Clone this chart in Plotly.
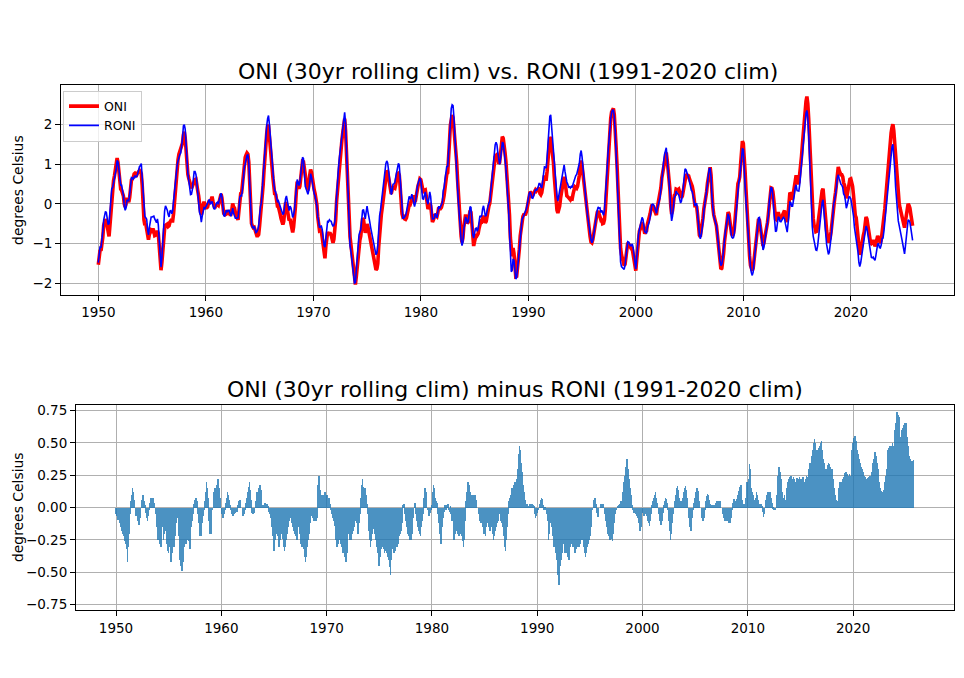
import plotly.graph_objects as go

# ---------------- data (monthly, starting Jan 1950) ----------------
start_year = 1950
x_ticks = [1950, 1960, 1970, 1980, 1990, 2000, 2010, 2020]
top_yticks = [-2, -1, 0, 1, 2]
bottom_yticks = [-0.75, -0.5, -0.25, 0.0, 0.25, 0.5, 0.75]

# ONI (30yr rolling climatology), one row per year
oni = [
    -1.53, -1.34, -1.16, -1.18, -1.07, -0.85, -0.54, -0.42, -0.39, -0.44, -0.60, -0.80,  # 1950
    -0.82, -0.54, -0.17, 0.18, 0.36, 0.58, 0.70, 0.89, 0.99, 1.15, 1.04, 0.81,  # 1951
    0.53, 0.37, 0.34, 0.29, 0.20, 0.00, -0.08, 0.00, 0.15, 0.10, 0.04, 0.16,  # 1952
    0.40, 0.60, 0.63, 0.66, 0.75, 0.77, 0.75, 0.73, 0.78, 0.84, 0.84, 0.81,  # 1953
    0.76, 0.47, -0.05, -0.41, -0.54, -0.50, -0.64, -0.84, -0.90, -0.77, -0.73, -0.66,  # 1954
    -0.68, -0.62, -0.69, -0.80, -0.79, -0.72, -0.68, -0.75, -1.09, -1.42, -1.67, -1.47,  # 1955
    -1.11, -0.76, -0.63, -0.54, -0.52, -0.51, -0.57, -0.55, -0.46, -0.42, -0.43, -0.43,  # 1956
    -0.25, 0.06, 0.41, 0.72, 0.92, 1.11, 1.25, 1.32, 1.33, 1.39, 1.53, 1.74,  # 1957
    1.81, 1.66, 1.27, 0.93, 0.74, 0.64, 0.57, 0.43, 0.39, 0.44, 0.50, 0.61,  # 1958
    0.61, 0.62, 0.52, 0.33, 0.20, -0.07, -0.18, -0.28, -0.09, -0.03, 0.05, -0.04,  # 1959
    -0.10, -0.10, -0.08, 0.02, 0.09, 0.03, 0.13, 0.18, 0.06, -0.06, -0.11, -0.05,  # 1960
    -0.03, -0.02, -0.04, 0.05, 0.13, 0.25, 0.15, -0.06, -0.24, -0.26, -0.16, -0.16,  # 1961
    -0.24, -0.22, -0.21, -0.27, -0.27, -0.16, 0.01, -0.08, -0.10, -0.22, -0.30, -0.40,  # 1962
    -0.40, -0.17, 0.16, 0.26, 0.28, 0.51, 0.85, 1.08, 1.17, 1.23, 1.28, 1.25,  # 1963
    1.05, 0.55, -0.08, -0.49, -0.56, -0.60, -0.59, -0.68, -0.80, -0.80, -0.80, -0.77,  # 1964
    -0.56, -0.32, -0.16, 0.16, 0.47, 0.84, 1.23, 1.53, 1.77, 1.96, 1.98, 1.70,  # 1965
    1.34, 1.17, 0.91, 0.64, 0.36, 0.23, 0.25, 0.08, -0.06, -0.07, -0.14, -0.26,  # 1966
    -0.37, -0.46, -0.52, -0.44, -0.18, 0.03, 0.00, -0.20, -0.34, -0.42, -0.38, -0.48,  # 1967
    -0.63, -0.72, -0.58, -0.40, -0.08, 0.29, 0.56, 0.49, 0.38, 0.44, 0.73, 0.93,  # 1968
    1.07, 1.06, 0.86, 0.69, 0.58, 0.42, 0.34, 0.44, 0.72, 0.86, 0.79, 0.61,  # 1969
    0.51, 0.35, 0.26, 0.15, -0.02, -0.33, -0.60, -0.68, -0.67, -0.70, -0.85, -1.11,  # 1970
    -1.35, -1.37, -1.07, -0.81, -0.71, -0.75, -0.75, -0.75, -0.79, -0.90, -0.98, -0.89,  # 1971
    -0.70, -0.39, 0.06, 0.36, 0.63, 0.93, 1.15, 1.42, 1.62, 1.81, 2.08, 2.14,  # 1972
    1.84, 1.24, 0.54, -0.07, -0.55, -0.83, -1.03, -1.23, -1.43, -1.73, -1.96, -2.03,  # 1973
    -1.83, -1.60, -1.23, -1.04, -0.91, -0.81, -0.56, -0.37, -0.39, -0.59, -0.73, -0.60,  # 1974
    -0.51, -0.58, -0.71, -0.75, -0.87, -1.05, -1.20, -1.27, -1.44, -1.52, -1.66, -1.63,  # 1975
    -1.50, -1.08, -0.70, -0.46, -0.26, -0.09, 0.14, 0.36, 0.58, 0.73, 0.83, 0.81,  # 1976
    0.65, 0.50, 0.28, 0.25, 0.35, 0.44, 0.40, 0.39, 0.49, 0.63, 0.76, 0.77,  # 1977
    0.72, 0.42, 0.04, -0.25, -0.33, -0.32, -0.38, -0.39, -0.35, -0.23, -0.10, -0.03,  # 1978
    -0.03, 0.05, 0.19, 0.21, 0.10, 0.05, 0.08, 0.24, 0.36, 0.46, 0.53, 0.63,  # 1979
    0.61, 0.46, 0.31, 0.27, 0.34, 0.35, 0.21, 0.02, -0.13, -0.07, 0.02, -0.04,  # 1980
    -0.26, -0.46, -0.41, -0.35, -0.26, -0.30, -0.32, -0.23, -0.09, -0.11, -0.12, -0.09,  # 1981
    -0.02, 0.08, 0.21, 0.46, 0.67, 0.75, 0.78, 1.06, 1.55, 1.98, 2.18, 2.23,  # 1982
    2.17, 1.92, 1.54, 1.28, 1.06, 0.62, 0.22, -0.16, -0.50, -0.81, -0.97, -0.86,  # 1983
    -0.58, -0.38, -0.27, -0.36, -0.49, -0.46, -0.32, -0.17, -0.21, -0.56, -0.92, -1.06,  # 1984
    -0.95, -0.84, -0.76, -0.79, -0.75, -0.62, -0.48, -0.44, -0.45, -0.33, -0.30, -0.39,  # 1985
    -0.48, -0.44, -0.26, -0.17, -0.06, 0.01, 0.23, 0.43, 0.67, 0.89, 1.08, 1.18,  # 1986
    1.22, 1.24, 1.14, 1.01, 1.04, 1.21, 1.50, 1.69, 1.65, 1.51, 1.29, 1.07,  # 1987
    0.75, 0.47, 0.14, -0.28, -0.86, -1.26, -1.32, -1.11, -1.24, -1.54, -1.83, -1.82,  # 1988
    -1.65, -1.37, -1.14, -0.80, -0.57, -0.37, -0.32, -0.27, -0.25, -0.26, -0.19, -0.06,  # 1989
    0.10, 0.24, 0.30, 0.28, 0.21, 0.22, 0.27, 0.33, 0.35, 0.32, 0.34, 0.37,  # 1990
    0.41, 0.26, 0.23, 0.28, 0.47, 0.64, 0.71, 0.62, 0.62, 0.82, 1.18, 1.50,  # 1991
    1.68, 1.64, 1.48, 1.29, 1.06, 0.69, 0.37, 0.06, -0.16, -0.23, -0.15, -0.06,  # 1992
    0.14, 0.30, 0.50, 0.66, 0.68, 0.56, 0.34, 0.20, 0.18, 0.14, 0.13, 0.10,  # 1993
    0.14, 0.13, 0.25, 0.35, 0.43, 0.41, 0.39, 0.44, 0.55, 0.72, 0.97, 1.09,  # 1994
    0.96, 0.74, 0.53, 0.30, 0.15, 0.00, -0.18, -0.41, -0.65, -0.83, -0.96, -0.98,  # 1995
    -0.90, -0.76, -0.58, -0.41, -0.28, -0.21, -0.18, -0.26, -0.30, -0.40, -0.38, -0.50,  # 1996
    -0.49, -0.40, -0.14, 0.27, 0.76, 1.24, 1.61, 1.93, 2.15, 2.31, 2.39, 2.40,  # 1997
    2.24, 1.93, 1.44, 0.99, 0.45, -0.13, -0.78, -1.12, -1.28, -1.38, -1.48, -1.55,  # 1998
    -1.52, -1.29, -1.05, -0.98, -1.01, -1.06, -1.09, -1.13, -1.13, -1.27, -1.42, -1.65,  # 1999
    -1.68, -1.41, -1.08, -0.81, -0.69, -0.63, -0.54, -0.46, -0.53, -0.64, -0.75, -0.70,  # 2000
    -0.68, -0.51, -0.44, -0.34, -0.25, -0.12, -0.02, -0.06, -0.13, -0.21, -0.26, -0.28,  # 2001
    -0.10, 0.04, 0.12, 0.22, 0.40, 0.65, 0.80, 0.87, 0.99, 1.15, 1.29, 1.11,  # 2002
    0.92, 0.61, 0.39, -0.04, -0.26, -0.17, 0.08, 0.21, 0.23, 0.37, 0.36, 0.35,  # 2003
    0.37, 0.29, 0.16, 0.15, 0.20, 0.34, 0.53, 0.70, 0.71, 0.73, 0.70, 0.70,  # 2004
    0.62, 0.57, 0.49, 0.44, 0.33, 0.13, -0.05, -0.05, -0.08, -0.28, -0.59, -0.79,  # 2005
    -0.83, -0.70, -0.56, -0.36, -0.12, 0.02, 0.09, 0.30, 0.52, 0.72, 0.91, 0.92,  # 2006
    0.72, 0.22, -0.08, -0.27, -0.34, -0.42, -0.55, -0.76, -1.05, -1.33, -1.55, -1.64,  # 2007
    -1.62, -1.48, -1.25, -0.95, -0.81, -0.64, -0.41, -0.21, -0.25, -0.43, -0.65, -0.76,  # 2008
    -0.80, -0.75, -0.62, -0.31, 0.04, 0.32, 0.51, 0.57, 0.68, 0.99, 1.38, 1.58,  # 2009
    1.52, 1.25, 0.81, 0.36, -0.17, -0.64, -1.02, -1.31, -1.55, -1.65, -1.68, -1.62,  # 2010
    -1.43, -1.18, -0.89, -0.72, -0.53, -0.38, -0.41, -0.58, -0.80, -1.00, -1.06, -0.98,  # 2011
    -0.86, -0.68, -0.57, -0.47, -0.26, 0.04, 0.24, 0.40, 0.39, 0.31, 0.11, -0.16,  # 2012
    -0.38, -0.40, -0.29, -0.21, -0.29, -0.36, -0.35, -0.33, -0.27, -0.19, -0.17, -0.28,  # 2013
    -0.43, -0.46, -0.27, 0.00, 0.28, 0.25, 0.12, 0.14, 0.28, 0.45, 0.62, 0.72,  # 2014
    0.55, 0.50, 0.54, 0.73, 0.95, 1.20, 1.50, 1.83, 2.12, 2.38, 2.58, 2.70,  # 2015
    2.52, 2.14, 1.58, 0.94, 0.39, -0.07, -0.36, -0.54, -0.59, -0.70, -0.69, -0.56,  # 2016
    -0.34, -0.15, 0.06, 0.22, 0.33, 0.38, 0.17, -0.14, -0.40, -0.68, -0.86, -0.97,  # 2017
    -0.92, -0.85, -0.70, -0.48, -0.13, 0.08, 0.13, 0.29, 0.56, 0.86, 0.93, 0.84,  # 2018
    0.75, 0.73, 0.73, 0.68, 0.53, 0.47, 0.32, 0.14, 0.23, 0.38, 0.53, 0.62,  # 2019
    0.63, 0.54, 0.44, 0.22, -0.08, -0.29, -0.35, -0.56, -0.86, -1.15, -1.28, -1.21,  # 2020
    -1.03, -0.91, -0.79, -0.70, -0.50, -0.33, -0.38, -0.52, -0.72, -0.87, -0.97, -1.00,  # 2021
    -0.98, -0.91, -0.99, -1.07, -1.00, -0.89, -0.81, -0.85, -0.97, -0.99, -0.91, -0.73,  # 2022
    -0.66, -0.43, -0.13, 0.16, 0.47, 0.81, 1.07, 1.30, 1.56, 1.78, 1.92, 2.00,  # 2023
    1.84, 1.54, 1.17, 0.76, 0.43, 0.17, 0.01, -0.11, -0.21, -0.27, -0.37, -0.51,  # 2024
    -0.60, -0.44, -0.23, -0.07, 0.00, -0.04, -0.11, -0.26, -0.42, -0.55,  # 2025
]

# ONI minus RONI, one row per year
oni_minus_roni = [
    -0.05, -0.06, -0.09, -0.07, -0.12, -0.15, -0.13, -0.18, -0.20, -0.22, -0.26, -0.28,  # 1950
    -0.32, -0.42, -0.30, -0.20, -0.05, 0.05, 0.10, 0.15, 0.12, 0.06, -0.02, -0.06,  # 1951
    -0.05, -0.10, -0.13, -0.08, -0.02, 0.06, 0.08, 0.10, 0.05, 0.02, -0.04, -0.08,  # 1952
    -0.10, -0.06, -0.02, 0.04, 0.08, 0.06, 0.08, 0.04, 0.02, -0.05, -0.10, -0.15,  # 1953
    -0.25, -0.20, -0.28, -0.30, -0.22, -0.15, -0.25, -0.20, -0.12, -0.18, -0.28, -0.33,  # 1954
    -0.35, -0.30, -0.38, -0.42, -0.35, -0.25, -0.30, -0.22, -0.18, -0.12, -0.08, -0.12,  # 1955
    -0.22, -0.40, -0.45, -0.49, -0.42, -0.35, -0.30, -0.22, -0.28, -0.25, -0.18, -0.26,  # 1956
    -0.32, -0.25, -0.15, -0.10, -0.05, 0.03, 0.06, 0.08, 0.05, -0.05, -0.12, -0.22,  # 1957
    -0.18, -0.22, -0.12, -0.06, -0.02, 0.05, 0.12, 0.20, 0.15, 0.08, -0.10, -0.20,  # 1958
    -0.20, -0.12, -0.02, 0.08, 0.12, 0.15, 0.10, 0.18, 0.22, 0.20, 0.15, 0.08,  # 1959
    -0.03, -0.05, -0.08, -0.05, -0.02, 0.04, 0.08, 0.12, 0.10, 0.06, 0.02, -0.02,  # 1960
    -0.05, -0.06, -0.03, -0.05, -0.04, -0.02, -0.03, 0.02, 0.05, 0.06, 0.03, 0.00,  # 1961
    -0.03, -0.06, -0.05, -0.02, 0.04, 0.08, 0.12, 0.16, 0.20, 0.14, 0.06, -0.04,  # 1962
    -0.05, -0.04, -0.02, 0.05, 0.08, 0.12, 0.10, 0.15, 0.18, 0.14, 0.06, 0.02,  # 1963
    0.02, 0.03, 0.04, 0.02, 0.03, 0.01, -0.03, -0.05, -0.08, -0.10, -0.15, -0.22,  # 1964
    -0.33, -0.25, -0.18, -0.20, -0.22, -0.26, -0.30, -0.25, -0.20, -0.18, -0.24, -0.30,  # 1965
    -0.33, -0.30, -0.25, -0.20, -0.15, -0.10, -0.05, -0.08, -0.12, -0.15, -0.14, -0.18,  # 1966
    -0.20, -0.22, -0.25, -0.20, -0.15, -0.10, -0.20, -0.28, -0.30, -0.25, -0.32, -0.38,  # 1967
    -0.42, -0.38, -0.30, -0.25, -0.20, -0.12, -0.05, -0.06, -0.08, -0.10, -0.06, -0.10,  # 1968
    -0.10, -0.08, 0.18, 0.25, 0.20, 0.14, 0.10, 0.10, 0.08, 0.10, 0.12, 0.10,  # 1969
    0.08, 0.10, 0.06, 0.08, 0.03, -0.02, -0.05, -0.08, -0.10, -0.14, -0.20, -0.25,  # 1970
    -0.30, -0.28, -0.22, -0.25, -0.28, -0.30, -0.35, -0.32, -0.35, -0.38, -0.42, -0.35,  # 1971
    -0.25, -0.20, -0.22, -0.25, -0.25, -0.20, -0.18, -0.15, -0.10, -0.08, -0.12, -0.16,  # 1972
    -0.20, -0.12, -0.05, 0.08, 0.18, 0.22, 0.16, 0.14, 0.15, 0.10, 0.03, -0.05,  # 1973
    -0.18, -0.25, -0.30, -0.26, -0.20, -0.16, -0.15, -0.20, -0.25, -0.30, -0.35, -0.40,  # 1974
    -0.45, -0.38, -0.32, -0.30, -0.28, -0.32, -0.35, -0.33, -0.30, -0.35, -0.38, -0.40,  # 1975
    -0.46, -0.52, -0.40, -0.30, -0.32, -0.35, -0.33, -0.30, -0.30, -0.28, -0.25, -0.22,  # 1976
    -0.20, -0.18, -0.12, 0.02, 0.03, -0.05, -0.10, -0.15, -0.18, -0.20, -0.22, -0.25,  # 1977
    -0.25, -0.20, -0.15, -0.08, 0.03, 0.04, -0.05, -0.10, -0.15, -0.18, -0.20, -0.22,  # 1978
    -0.15, -0.10, -0.05, 0.08, 0.15, 0.12, 0.05, -0.02, -0.05, -0.06, -0.04, -0.02,  # 1979
    0.02, 0.12, 0.18, 0.15, 0.08, 0.05, 0.04, -0.05, -0.12, -0.20, -0.28, -0.22,  # 1980
    -0.15, -0.08, -0.03, 0.02, -0.02, 0.02, 0.03, -0.02, -0.03, 0.01, -0.05, -0.10,  # 1981
    -0.05, -0.25, -0.20, -0.15, -0.18, -0.20, -0.15, -0.22, -0.20, -0.18, -0.22, -0.26,  # 1982
    -0.30, -0.25, -0.10, 0.05, 0.12, 0.20, 0.18, 0.15, 0.12, 0.10, 0.08, 0.10,  # 1983
    0.08, 0.10, 0.06, 0.03, 0.00, -0.02, -0.05, -0.10, -0.12, -0.08, -0.15, -0.20,  # 1984
    -0.20, -0.22, -0.15, -0.10, -0.12, -0.15, -0.18, -0.12, -0.15, -0.20, -0.25, -0.22,  # 1985
    -0.18, -0.15, -0.12, -0.10, -0.08, -0.05, -0.08, -0.10, -0.12, -0.15, -0.22, -0.30,  # 1986
    -0.33, -0.25, -0.15, -0.05, 0.05, 0.08, 0.10, 0.15, 0.12, 0.18, 0.20, 0.16,  # 1987
    0.20, 0.22, 0.30, 0.42, 0.48, 0.45, 0.35, 0.28, 0.18, 0.12, 0.06, 0.03,  # 1988
    0.02, 0.03, 0.01, 0.02, 0.03, 0.02, 0.03, 0.02, 0.01, -0.05, -0.08, -0.06,  # 1989
    -0.04, -0.02, 0.00, 0.03, 0.06, 0.08, 0.07, 0.02, -0.02, -0.01, -0.02, -0.05,  # 1990
    -0.10, -0.25, -0.20, -0.12, -0.10, -0.15, -0.22, -0.30, -0.28, -0.35, -0.40, -0.45,  # 1991
    -0.52, -0.60, -0.45, -0.40, -0.35, -0.30, -0.28, -0.32, -0.35, -0.30, -0.35, -0.38,  # 1992
    -0.40, -0.38, -0.30, -0.28, -0.30, -0.25, -0.30, -0.35, -0.32, -0.28, -0.30, -0.30,  # 1993
    -0.30, -0.28, -0.25, -0.22, -0.25, -0.30, -0.35, -0.38, -0.35, -0.30, -0.28, -0.25,  # 1994
    -0.22, -0.15, -0.08, -0.02, 0.04, 0.06, 0.08, 0.03, -0.04, -0.07, -0.05, 0.00,  # 1995
    0.02, 0.03, 0.02, 0.03, 0.00, -0.05, -0.10, -0.15, -0.20, -0.18, -0.22, -0.25,  # 1996
    -0.20, -0.24, -0.26, -0.20, -0.12, -0.05, -0.02, 0.00, 0.01, 0.02, 0.03, 0.05,  # 1997
    0.05, 0.08, 0.12, 0.20, 0.25, 0.32, 0.38, 0.34, 0.30, 0.22, 0.15, 0.10,  # 1998
    0.02, -0.02, -0.04, -0.03, -0.05, -0.06, -0.04, -0.08, -0.12, -0.18, -0.15, -0.08,  # 1999
    -0.04, -0.05, -0.06, -0.04, -0.05, -0.06, -0.10, -0.12, -0.14, -0.10, -0.05, 0.02,  # 2000
    0.05, 0.08, 0.10, 0.12, 0.08, 0.04, 0.00, -0.05, -0.10, -0.13, -0.10, -0.04,  # 2001
    0.02, 0.05, 0.08, 0.07, 0.04, -0.02, -0.10, -0.18, -0.25, -0.20, -0.12, -0.05,  # 2002
    0.00, 0.05, 0.10, 0.15, 0.17, 0.14, 0.08, 0.05, 0.04, 0.05, 0.08, 0.12,  # 2003
    0.15, 0.17, 0.14, 0.08, 0.00, -0.08, -0.15, -0.18, -0.15, -0.08, -0.02, 0.04,  # 2004
    0.08, 0.12, 0.15, 0.13, 0.10, 0.05, 0.00, -0.05, -0.08, -0.10, -0.08, -0.02,  # 2005
    0.05, 0.09, 0.11, 0.10, 0.06, 0.03, 0.02, 0.01, 0.02, 0.00, 0.02, 0.03,  # 2006
    0.04, 0.05, 0.05, 0.04, 0.05, 0.03, 0.00, -0.03, -0.05, -0.08, -0.10, -0.09,  # 2007
    -0.10, -0.10, -0.12, -0.11, -0.12, -0.08, -0.02, 0.04, 0.07, 0.06, 0.05, 0.07,  # 2008
    0.06, 0.10, 0.13, 0.16, 0.18, 0.15, 0.06, 0.02, 0.03, 0.02, 0.08, 0.20,  # 2009
    0.15, 0.22, 0.34, 0.30, 0.15, 0.12, 0.10, 0.06, 0.05, 0.08, 0.12, 0.10,  # 2010
    0.06, 0.03, 0.02, 0.03, 0.01, -0.03, -0.07, -0.05, 0.02, 0.06, 0.10, 0.12,  # 2011
    0.10, 0.12, 0.10, 0.08, 0.04, -0.01, -0.02, -0.02, 0.00, 0.10, 0.25, 0.32,  # 2012
    0.32, 0.28, 0.22, 0.12, 0.06, 0.08, 0.10, 0.06, 0.10, 0.15, 0.20, 0.22,  # 2013
    0.24, 0.25, 0.22, 0.20, 0.24, 0.22, 0.18, 0.20, 0.23, 0.22, 0.20, 0.24,  # 2014
    0.22, 0.18, 0.22, 0.24, 0.20, 0.18, 0.22, 0.25, 0.24, 0.30, 0.30, 0.35,  # 2015
    0.35, 0.40, 0.45, 0.50, 0.53, 0.50, 0.45, 0.44, 0.45, 0.46, 0.48, 0.50,  # 2016
    0.52, 0.45, 0.38, 0.35, 0.30, 0.28, 0.30, 0.33, 0.35, 0.34, 0.32, 0.30,  # 2017
    0.30, 0.22, 0.15, 0.10, 0.08, 0.06, 0.03, 0.05, 0.15, 0.20, 0.20, 0.20,  # 2018
    0.22, 0.24, 0.26, 0.27, 0.28, 0.26, 0.24, 0.25, 0.26, 0.25, 0.35, 0.45,  # 2019
    0.50, 0.54, 0.56, 0.52, 0.50, 0.45, 0.42, 0.38, 0.35, 0.32, 0.30, 0.28,  # 2020
    0.28, 0.25, 0.24, 0.22, 0.22, 0.23, 0.24, 0.25, 0.24, 0.28, 0.32, 0.35,  # 2021
    0.38, 0.43, 0.40, 0.35, 0.30, 0.25, 0.20, 0.15, 0.13, 0.12, 0.12, 0.14,  # 2022
    0.20, 0.25, 0.30, 0.38, 0.45, 0.46, 0.48, 0.47, 0.48, 0.50, 0.48, 0.50,  # 2023
    0.60, 0.66, 0.74, 0.72, 0.70, 0.60, 0.55, 0.58, 0.60, 0.62, 0.64, 0.66,  # 2024
    0.66, 0.62, 0.55, 0.48, 0.40, 0.38, 0.36, 0.35, 0.36, 0.37,  # 2025
]

# ---------------- derived series ----------------
n = min(len(oni), len(oni_minus_roni))
time = [start_year + i / 12 for i in range(n)]
roni = [round(oni[i] - oni_minus_roni[i], 3) for i in range(n)]
diff = oni_minus_roni[:n]

# the page body adds an 8 px offset, so the figure is 8 px smaller and
# reference pixel positions are shifted by that offset
OFF = 8
W, H = 964 - OFF, 678 - OFF
FONT = "DejaVu Sans"

def px_x(p):
    return (p - OFF) / W

def px_y(p):
    return 1 - (p - OFF) / H

fig = go.Figure()

fig.add_trace(go.Scatter(x=time, y=oni[:n], mode="lines", name="ONI",
                         line=dict(color="red", width=3.6),
                         xaxis="x", yaxis="y"))
fig.add_trace(go.Scatter(x=time, y=roni, mode="lines", name="RONI",
                         line=dict(color="blue", width=1.6),
                         xaxis="x", yaxis="y"))
fig.add_trace(go.Bar(x=time, y=diff, width=0.06, showlegend=False,
                     marker=dict(color="#1f77b4", line=dict(width=0)),
                     opacity=0.8, xaxis="x2", yaxis="y2"))

axis_common = dict(
    showline=True, linecolor="black", linewidth=1, mirror=True,
    ticks="outside", ticklen=5, tickwidth=1, tickcolor="black",
    showgrid=True, gridcolor="#b0b0b0", gridwidth=1,
    zeroline=False, tickfont=dict(family=FONT, size=13.5, color="black"),
)

fig.update_layout(
    width=W, height=H,
    margin=dict(l=0, r=0, t=0, b=0),
    paper_bgcolor="white", plot_bgcolor="white",
    font=dict(family=FONT, color="black"),
    bargap=0,
    xaxis=dict(domain=[px_x(61), px_x(954)], range=[1946.53, 2029.6],
               tickvals=x_ticks, anchor="y", **axis_common),
    yaxis=dict(domain=[px_y(295), px_y(83)], range=[-2.3, 3.0],
               tickvals=top_yticks, anchor="x", **axis_common),
    xaxis2=dict(domain=[px_x(76), px_x(954)], range=[1946.2, 2029.58],
                tickvals=x_ticks, anchor="y2", **axis_common),
    yaxis2=dict(domain=[px_y(612), px_y(405)], range=[-0.796, 0.796],
                tickvals=bottom_yticks, tickformat=".2f", anchor="x2", **axis_common),
    legend=dict(x=px_x(63), y=px_y(89), xanchor="left", yanchor="top",
                bgcolor="rgba(255,255,255,0.8)", bordercolor="#cccccc",
                borderwidth=1, font=dict(family=FONT, size=12.5, color="black"),
                itemwidth=30, tracegroupgap=0),
    showlegend=True,
    annotations=[
        dict(text="ONI (30yr rolling clim) vs. RONI (1991-2020 clim)",
             x=px_x(507.5), y=px_y(70), xref="paper", yref="paper",
             xanchor="center", yanchor="middle", showarrow=False,
             font=dict(family=FONT, size=22, color="black")),
        dict(text="ONI (30yr rolling clim) minus RONI (1991-2020 clim)",
             x=px_x(515), y=px_y(390), xref="paper", yref="paper",
             xanchor="center", yanchor="middle", showarrow=False,
             font=dict(family=FONT, size=22, color="black")),
        dict(text="degrees Celsius", x=px_x(18), y=px_y(189),
             xref="paper", yref="paper", xanchor="center", yanchor="middle",
             textangle=-90, showarrow=False,
             font=dict(family=FONT, size=13.9, color="black")),
        dict(text="degrees Celsius", x=px_x(18), y=px_y(508),
             xref="paper", yref="paper", xanchor="center", yanchor="middle",
             textangle=-90, showarrow=False,
             font=dict(family=FONT, size=13.9, color="black")),
    ],
)

fig.write_html("out.html")
